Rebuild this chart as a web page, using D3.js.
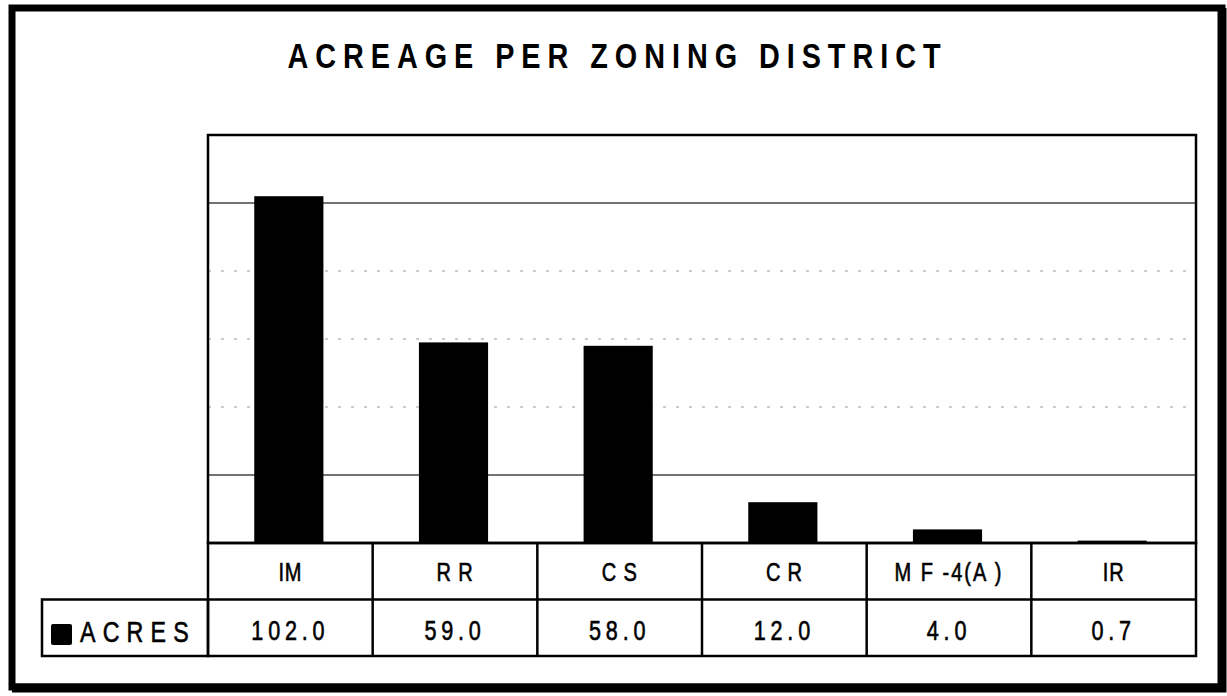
<!DOCTYPE html>
<html>
<head>
<meta charset="utf-8">
<script src="https://cdn.jsdelivr.net/npm/d3@7"></script>
<style>
  body { margin: 0; background: #fff; }
  text { font-family: "Liberation Sans", Arial, sans-serif; fill: #000; }
</style>
</head>
<body>
<div id="chart"></div>
<script>
// data
var districts = ["IM", "RR", "CS", "CR", "MF-4(A)", "IR"];
var districtLabels = ["IM", "R R", "C S", "C R", "M F -4(A )", "IR"];
var acres = [102.0, 59.0, 58.0, 12.0, 4.0, 0.7];
var yTicks = [20, 40, 60, 80, 100];
var solidTicks = [20, 100];
var seriesName = "ACRES";

var W = 1227, H = 696;
var plot = {left: 208, right: 1196, top: 135, bottom: 543};
var rowH = 56.5;
var narrow = 0.8; // fake a narrow face by squeezing text horizontally

function squeeze(cx, cy) {
  return "translate(" + cx + "," + cy + ") scale(" + narrow + ",1)";
}

var svg = d3.select("#chart").append("svg")
    .attr("width", W)
    .attr("height", H);

// outer frame with a heavier bottom/right edge
svg.append("rect")
    .attr("x", 12).attr("y", 8)
    .attr("width", 1210).attr("height", 679)
    .attr("fill", "none").attr("stroke", "#000").attr("stroke-width", 7);
svg.append("path")
    .attr("d", "M1222,8 V688 H12")
    .attr("fill", "none").attr("stroke", "#000").attr("stroke-width", 9);

// title
svg.append("text")
    .attr("transform", squeeze(614, 68))
    .attr("text-anchor", "middle")
    .attr("font-size", 36)
    .attr("font-weight", "bold")
    .attr("textLength", 653 / narrow)
    .attr("lengthAdjust", "spacing")
    .text("ACREAGE PER ZONING DISTRICT");

var x = d3.scaleBand()
    .domain(districts)
    .range([plot.left, plot.right])
    .paddingInner(0)
    .paddingOuter(0);

var y = d3.scaleLinear()
    .domain([0, 120])
    .range([plot.bottom, plot.top]);

// gridlines
svg.append("g")
  .selectAll("line")
  .data(yTicks)
  .enter().append("line")
    .attr("x1", plot.left).attr("x2", plot.right)
    .attr("y1", function(d) { return y(d); })
    .attr("y2", function(d) { return y(d); })
    .attr("stroke", function(d) { return solidTicks.indexOf(d) >= 0 ? "#444" : "#999"; })
    .attr("stroke-width", function(d) { return solidTicks.indexOf(d) >= 0 ? 1.5 : 1; })
    .attr("stroke-dasharray", function(d) { return solidTicks.indexOf(d) >= 0 ? null : "3,10"; });

// bars
var barW = x.bandwidth() * 0.42;
svg.append("g")
  .selectAll("rect")
  .data(districts)
  .enter().append("rect")
    .attr("x", function(d) { return x(d) + (x.bandwidth() - barW) / 2 - 1.5; })
    .attr("width", barW)
    .attr("y", function(d, i) { return y(acres[i]); })
    .attr("height", function(d, i) { return plot.bottom - y(acres[i]); })
    .attr("fill", "#000");

// plot frame
svg.append("rect")
    .attr("x", plot.left).attr("y", plot.top)
    .attr("width", plot.right - plot.left).attr("height", plot.bottom - plot.top)
    .attr("fill", "none").attr("stroke", "#000").attr("stroke-width", 2.5);

// data table
var tbl = svg.append("g").attr("stroke", "#000").attr("stroke-width", 2.5);
tbl.append("rect")
    .attr("x", plot.left).attr("y", plot.bottom)
    .attr("width", plot.right - plot.left).attr("height", rowH * 2)
    .attr("fill", "none");
tbl.append("rect")
    .attr("x", 42).attr("y", plot.bottom + rowH)
    .attr("width", plot.left - 42).attr("height", rowH)
    .attr("fill", "none");
tbl.append("line")
    .attr("x1", plot.left).attr("x2", plot.right)
    .attr("y1", plot.bottom + rowH).attr("y2", plot.bottom + rowH);
tbl.selectAll(".col")
  .data(districts.slice(1))
  .enter().append("line")
    .attr("x1", function(d) { return x(d); })
    .attr("x2", function(d) { return x(d); })
    .attr("y1", plot.bottom).attr("y2", plot.bottom + rowH * 2);

svg.append("g")
  .selectAll("text")
  .data(districts)
  .enter().append("text")
    .attr("transform", function(d) { return squeeze(x(d) + x.bandwidth() / 2, 581); })
    .attr("text-anchor", "middle")
    .attr("font-size", 25)
    .attr("letter-spacing", function(d) { return d.length > 2 ? 2.5 : 1; })
    .attr("stroke", "#000").attr("stroke-width", 0.6)
    .text(function(d, i) { return districtLabels[i]; });

svg.append("g")
  .selectAll("text")
  .data(acres)
  .enter().append("text")
    .attr("transform", function(d, i) { return squeeze(x(districts[i]) + x.bandwidth() / 2, 640); })
    .attr("text-anchor", "middle")
    .attr("font-size", 27)
    .attr("letter-spacing", 6)
    .attr("stroke", "#000").attr("stroke-width", 0.6)
    .text(function(d) { return d.toFixed(1); });

// legend key in table
svg.append("rect")
    .attr("x", 51).attr("y", 624)
    .attr("width", 21).attr("height", 21)
    .attr("rx", 2)
    .attr("fill", "#000");
svg.append("text")
    .attr("transform", squeeze(80, 642))
    .attr("font-size", 29)
    .attr("letter-spacing", 9)
    .attr("stroke", "#000").attr("stroke-width", 0.6)
    .text(seriesName);
</script>
</body>
</html>
